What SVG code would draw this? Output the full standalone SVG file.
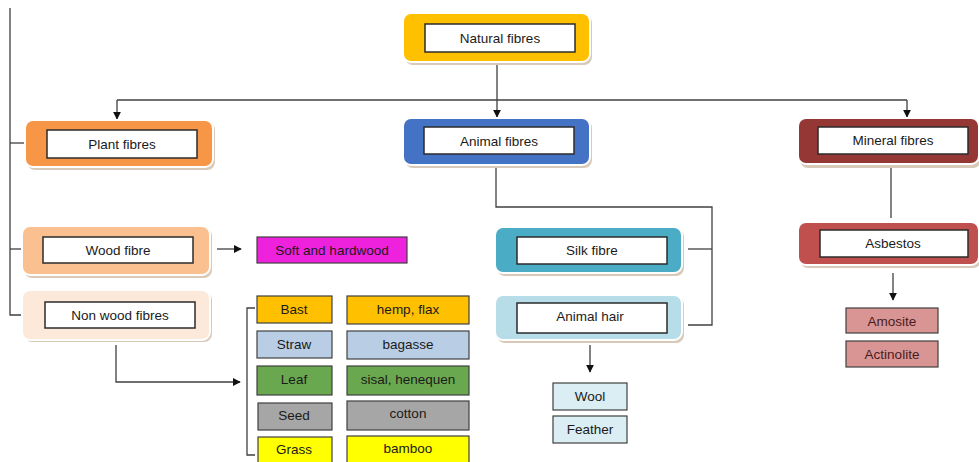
<svg xmlns="http://www.w3.org/2000/svg" width="979" height="462" viewBox="0 0 979 462">
<defs>
<style>
text{font-family:"Liberation Sans",Arial,sans-serif;font-size:13.5px;fill:#1a1a1a;text-anchor:middle;dominant-baseline:central}
.shadow{fill:#d9c9b8}
.outer{stroke:#ffffff;stroke-width:2}
.inner{fill:#ffffff;stroke:#2b2b2b;stroke-width:1.5}
.cell{stroke:#404040;stroke-width:1.2}
.ln{fill:none;stroke:#404040;stroke-width:1.3}
</style>
<marker id="ah" viewBox="0 0 10 10" refX="9" refY="5" markerWidth="8" markerHeight="8" markerUnits="userSpaceOnUse" orient="auto">
<path d="M0,0 L10,5 L0,10 z" fill="#111"/>
</marker>
</defs>
<rect width="979" height="462" fill="#ffffff"/>

<g id="connectors">
<path class="ln" d="M10,8 V315 H22"/>
<path class="ln" d="M10,143 H25"/>
<path class="ln" d="M10,249 H22"/>
<path class="ln" d="M497,63 V117" marker-end="url(#ah)"/>
<path class="ln" d="M117,100 H907"/>
<path class="ln" d="M117,100 V119" marker-end="url(#ah)"/>
<path class="ln" d="M907,100 V117" marker-end="url(#ah)"/>
<path class="ln" d="M217,249 H241" marker-end="url(#ah)"/>
<path class="ln" d="M116,345 V382 H240" marker-end="url(#ah)"/>
<path class="ln" d="M255,308 H247 V455 H255"/>
<path class="ln" d="M496,166 V207 H712 V325 H688"/>
<path class="ln" d="M688,249 H712"/>
<path class="ln" d="M590,345 V372" marker-end="url(#ah)"/>
<path class="ln" d="M891,165 V218"/>
<path class="ln" d="M893,273 V300" marker-end="url(#ah)"/>
</g>

<g id="natural">
<rect class="shadow" x="405" y="15" width="187" height="50" rx="8"/>
<rect class="outer" x="403" y="13" width="187" height="49" rx="8" fill="#FFC000"/>
<rect class="inner" x="425" y="24" width="150" height="28"/>
<text x="500" y="38">Natural fibres</text>
</g>

<g id="plant">
<rect class="shadow" x="27" y="122" width="188" height="48" rx="8"/>
<rect class="outer" x="25" y="120" width="188" height="47" rx="8" fill="#F79646"/>
<rect class="inner" x="47" y="130" width="150" height="28"/>
<text x="122" y="144">Plant fibres</text>
</g>

<g id="animal">
<rect class="shadow" x="405" y="120" width="187" height="48" rx="8"/>
<rect class="outer" x="403" y="118" width="187" height="47" rx="8" fill="#4472C4"/>
<rect class="inner" x="424" y="127" width="150" height="27"/>
<text x="499" y="141">Animal fibres</text>
</g>

<g id="mineral">
<rect class="shadow" x="800" y="120" width="181" height="48" rx="8"/>
<rect class="outer" x="798" y="118" width="181" height="46" rx="8" fill="#953735"/>
<rect class="inner" x="818" y="127" width="150" height="27"/>
<text x="893" y="140">Mineral fibres</text>
</g>

<g id="wood">
<rect class="shadow" x="24" y="228" width="188" height="50" rx="8"/>
<rect class="outer" x="22" y="226" width="188" height="49" rx="8" fill="#FAC090"/>
<rect class="inner" x="43" y="237" width="150" height="26"/>
<text x="118" y="250">Wood fibre</text>
</g>

<g id="softhard">
<rect class="cell" x="257" y="237" width="150" height="26" fill="#EE22DD"/>
<text x="332" y="250">Soft and hardwood</text>
</g>

<g id="nonwood">
<rect class="shadow" x="24" y="292" width="188" height="50" rx="8"/>
<rect class="outer" x="22" y="290" width="188" height="50" rx="8" fill="#FDE9D9"/>
<rect class="inner" x="45" y="302" width="150" height="26"/>
<text x="120" y="315">Non wood fibres</text>
</g>

<g id="bast"><rect class="cell" x="257" y="296" width="75" height="27" fill="#FFC000"/><text x="294" y="309">Bast</text></g>
<g id="hemp"><rect class="cell" x="347" y="296" width="122" height="28" fill="#FFC000"/><text x="408" y="309">hemp, flax</text></g>
<g id="straw"><rect class="cell" x="257" y="331" width="75" height="27" fill="#B9CDE5"/><text x="294" y="344">Straw</text></g>
<g id="bagasse"><rect class="cell" x="347" y="331" width="122" height="28" fill="#B9CDE5"/><text x="408" y="344">bagasse</text></g>
<g id="leaf"><rect class="cell" x="257" y="366" width="75" height="29" fill="#6AA84F"/><text x="294" y="379">Leaf</text></g>
<g id="sisal"><rect class="cell" x="347" y="366" width="122" height="29" fill="#6AA84F"/><text x="408" y="379">sisal, henequen</text></g>
<g id="seed"><rect class="cell" x="258" y="403" width="74" height="27" fill="#A6A6A6"/><text x="294" y="415">Seed</text></g>
<g id="cotton"><rect class="cell" x="347" y="401" width="122" height="29" fill="#A6A6A6"/><text x="408" y="413">cotton</text></g>
<g id="grass"><rect class="cell" x="258" y="437" width="74" height="30" fill="#FFFF00"/><text x="294" y="449">Grass</text></g>
<g id="bamboo"><rect class="cell" x="347" y="436" width="122" height="31" fill="#FFFF00"/><text x="408" y="448">bamboo</text></g>

<g id="silk">
<rect class="shadow" x="497" y="229" width="187" height="47" rx="8"/>
<rect class="outer" x="495" y="227" width="187" height="46" rx="8" fill="#4BACC6"/>
<rect class="inner" x="517" y="237" width="150" height="27"/>
<text x="592" y="250">Silk fibre</text>
</g>

<g id="hair">
<rect class="shadow" x="497" y="297" width="187" height="46" rx="8"/>
<rect class="outer" x="495" y="295" width="187" height="45" rx="8" fill="#B7DEE8"/>
<rect class="inner" x="517" y="303" width="150" height="30"/>
<text x="590" y="316">Animal hair</text>
</g>

<g id="wool"><rect class="cell" x="553" y="383" width="74" height="27" fill="#DAEEF3"/><text x="590" y="396">Wool</text></g>
<g id="feather"><rect class="cell" x="553" y="416" width="74" height="27" fill="#DAEEF3"/><text x="590" y="429">Feather</text></g>

<g id="asbestos">
<rect class="shadow" x="800" y="224" width="181" height="44" rx="8"/>
<rect class="outer" x="798" y="222" width="181" height="43" rx="8" fill="#C0504D"/>
<rect class="inner" x="820" y="230" width="148" height="27"/>
<text x="893" y="243">Asbestos</text>
</g>

<g id="amosite"><rect class="cell" x="846" y="308" width="92" height="25" fill="#D99594"/><text x="892" y="321" style="fill:#4a1c1c">Amosite</text></g>
<g id="actinolite"><rect class="cell" x="846" y="341" width="92" height="26" fill="#D99594"/><text x="892" y="354" style="fill:#4a1c1c">Actinolite</text></g>
</svg>
